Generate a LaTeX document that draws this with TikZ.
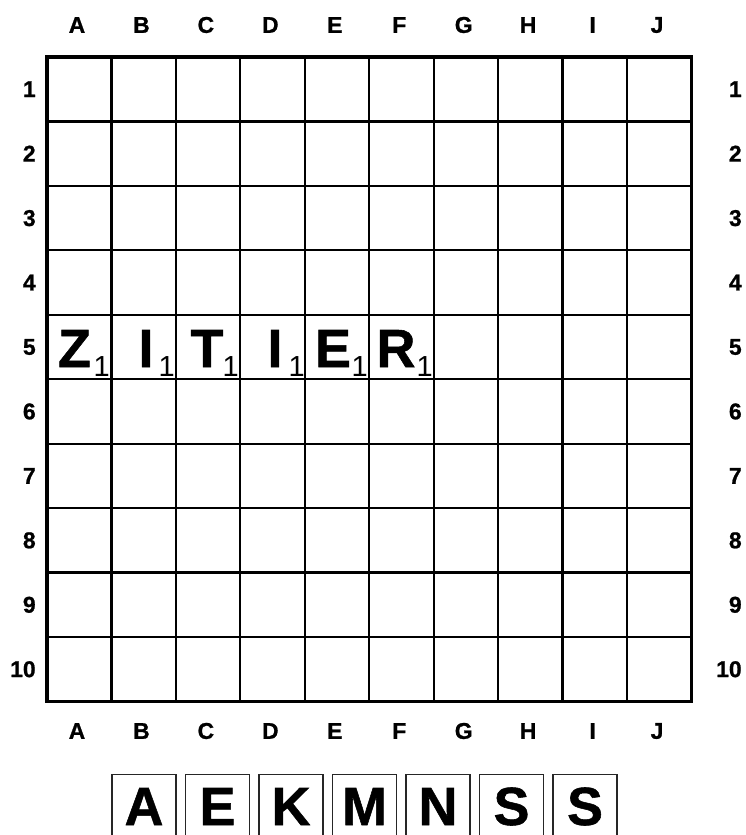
\documentclass[tikz,border=0pt]{standalone}
\usepackage{fontspec}
\setmainfont{Liberation Sans}[BoldFeatures={FakeBold=1}]
\usetikzlibrary{positioning}

\begin{document}
\begin{tikzpicture}[
  x=0.02cm, y=-0.02cm,
  every node/.style={inner sep=0pt},
  coord/.style={font=\fontsize{13}{13}\selectfont\bfseries},
  letter/.style={font=\fontsize{30.6}{31}\selectfont\bfseries, anchor=base},
  points/.style={font=\fontsize{16.5}{16.5}\selectfont, anchor=base east},
  gridline/.style={line width=1.3pt},
  border/.style={line width=2.2pt},
  tile/.style={draw=black!85, line width=0.8pt, minimum width=1.28cm, minimum height=1.3cm, anchor=north}
]
  \useasboundingbox (0,0) rectangle (745,835);

  % Griglia
  \foreach \i in {1,...,9} {
    \draw[gridline] (47+64.45*\i,57) -- (47+64.45*\i,701.5);
    \draw[gridline] (47,57+64.45*\i) -- (691.5,57+64.45*\i);
  }
  \draw[border] (47,57) rectangle (691.5,701.5);

  % Coordinate
  \foreach \c [count=\i from 0] in {A,B,C,D,E,F,G,H,I,J} {
    \node[coord] (top\c) at (77+64.45*\i,25) {\c};
    \node[coord] (bot\c) at (77+64.45*\i,731) {\c};
  }
  \foreach \r [count=\i from 0] in {1,...,10} {
    \node[coord, anchor=east] (left\r) at (36,89.2+64.45*\i) {\r};
    \node[coord, anchor=east] (right\r) at (742,89.2+64.45*\i) {\r};
  }

  % Parola in riga 5
  \foreach \l/\x/\p [count=\i] in {Z/74.5/107, I/146/172, T/207/236, I/275/302, E/333/365, R/396/430} {
    \node[letter] (w\i) at (\x,367) {\l};
    \node[points] (p\i) at (\p+3,376) {1};
  }

  % Leggio
  \foreach \l [count=\i from 0] in {A,E,K,M,N,S,S} {
    \node[tile] (rack\i) at (144+73.5*\i,774) {};
    \node[letter] (rl\i) at (144+73.5*\i,825) {\l};
  }

\end{tikzpicture}
\end{document}
